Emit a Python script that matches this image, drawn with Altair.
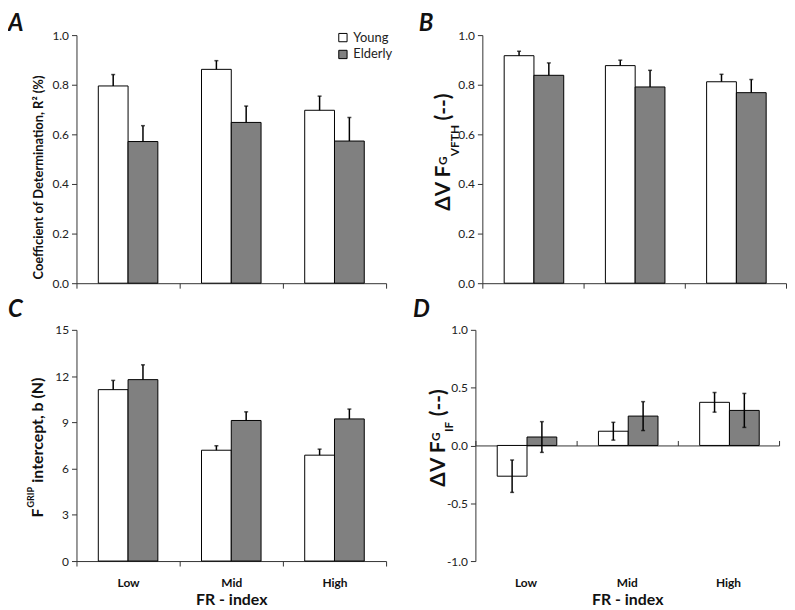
import altair as alt
import pandas as pd

# ---------------- data ----------------
categories = ["Low", "Mid", "High"]
groups = ["Young", "Elderly"]

a_young = [0.795, 0.862, 0.697]
a_young_err = [0.046, 0.035, 0.057]
a_elderly = [0.571, 0.648, 0.573]
a_elderly_err = [0.064, 0.066, 0.095]

b_young = [0.917, 0.877, 0.812]
b_young_err = [0.018, 0.022, 0.030]
b_elderly = [0.838, 0.791, 0.768]
b_elderly_err = [0.050, 0.067, 0.053]

c_young = [11.12, 7.19, 6.87]
c_young_err = [0.60, 0.29, 0.39]
c_elderly = [11.77, 9.12, 9.22]
c_elderly_err = [0.96, 0.56, 0.64]

d_young = [-0.266, 0.123, 0.373]
d_young_err = [0.140, 0.077, 0.085]
d_elderly = [0.073, 0.254, 0.303]
d_elderly_err = [0.133, 0.125, 0.147]

FONT = "Lato"
WL, WR = 312, 306
H1, H2 = 250, 233


def make_df(young, young_err, elderly, elderly_err, both):
    rows = []
    for i, c in enumerate(categories):
        for g, v, e in (("Young", young[i], young_err[i]), ("Elderly", elderly[i], elderly_err[i])):
            rows.append({"cat": c, "grp": g, "val": v,
                         "lo": v - e if both else v, "hi": v + e})
    return pd.DataFrame(rows)


def text_layer(txt, x, y, size, angle=0, italic=False):
    kw = dict(font=FONT, fontSize=size, fontWeight="bold", align="left",
              baseline="alphabetic", color="#111")
    if angle:
        kw["angle"] = angle
    if italic:
        kw["fontStyle"] = "italic"
    return alt.Chart(pd.DataFrame({"t": [txt]})).mark_text(**kw).encode(
        text="t:N", x=alt.value(x), y=alt.value(y))


def rich_title(pieces, start_y):
    layers = []
    y = start_y
    for txt, size, xb, length in pieces:
        layers.append(text_layer(txt, xb, y, size, angle=270))
        y -= length
    return layers


def panel(df, w, h, ydom, yvals, yfmt, ytitle, letter, letter_xy,
          xlabels=False, legend=False, zero_axis=False, title_layers=()):
    xo = alt.XOffset("grp:N", sort=groups,
                     scale=alt.Scale(paddingInner=0, paddingOuter=0.733))
    xscale = alt.Scale(paddingInner=0, paddingOuter=0)
    yscale = alt.Scale(domain=ydom, nice=False)
    yaxis_kw = dict(values=yvals, format=yfmt, tickSize=5, labelPadding=3,
                    labelFontSize=12)
    if ytitle:
        yaxis_kw.update(titleFontSize=13, titleFontWeight="bold", titleX=-34,
                        titleY=143, titleAlign="center", titleBaseline="alphabetic",
                        titleAngle=270, titleColor="#111")
    if ydom[0] < 0:
        yaxis_kw["labelExpr"] = "replace(datum.label, '\u2212', '-')"
    yaxis = alt.Axis(**yaxis_kw)

    if xlabels:
        main_xaxis = dict(labelFontSize=12, labelFontWeight="bold", labelColor="#111",
                          labelAngle=0, labelPadding=12, titleFontSize=16,
                          titleFontWeight="bold", titleColor="#111", titlePadding=3)
    else:
        main_xaxis = dict(labels=False)

    if zero_axis:
        bar_x = alt.X("cat:N", sort=categories, scale=xscale,
                      title="FR - index",
                      axis=alt.Axis(domain=False, ticks=False, **dict(main_xaxis, labelPadding=17)))
        rule_x = alt.X("cat:N", sort=categories, scale=xscale, title=None,
                       axis=alt.Axis(labels=False, tickBand="extent", tickSize=5,
                                     offset=-h / 2))
        cap_x = alt.X("cat:N", sort=categories, scale=xscale, axis=None)
    else:
        bar_x = alt.X("cat:N", sort=categories, scale=xscale,
                      title="FR - index" if xlabels else None,
                      axis=alt.Axis(tickBand="extent", tickSize=5, **main_xaxis))
        rule_x = bar_x
        cap_x = bar_x

    yt = ytitle if ytitle else None
    fill_kw = dict(scale=alt.Scale(domain=groups, range=["#ffffff", "#808080"]))
    if legend:
        fill_kw["legend"] = alt.Legend(orient="none", legendX=262, legendY=-4, title=None,
                                       symbolType="square", symbolSize=70,
                                       symbolStrokeColor="black", symbolStrokeWidth=1,
                                       labelFont=FONT, labelFontSize=13, labelColor="#222",
                                       rowPadding=3, labelOffset=4, padding=0)
    else:
        fill_kw["legend"] = None

    base = alt.Chart(df)
    bars = base.mark_bar(stroke="black", strokeWidth=1).encode(
        x=bar_x, xOffset=xo,
        y=alt.Y("val:Q", scale=yscale, axis=yaxis, title=yt),
        fill=alt.Fill("grp:N", **fill_kw))
    rules = base.mark_rule(color="black", strokeWidth=1.5).encode(
        x=rule_x, xOffset=xo,
        y=alt.Y("lo:Q", scale=yscale, title=yt), y2="hi:Q")
    cap_hi = base.mark_tick(color="black", size=4, thickness=1.5).encode(
        x=cap_x, xOffset=xo, y=alt.Y("hi:Q", scale=yscale, title=yt))
    layers = [bars, rules, cap_hi]
    if zero_axis:
        cap_lo = base.mark_tick(color="black", size=4, thickness=1.5).encode(
            x=cap_x, xOffset=xo, y=alt.Y("lo:Q", scale=yscale, title=yt))
        layers.append(cap_lo)
    layers.append(text_layer(letter, letter_xy[0], letter_xy[1], 24, italic=True))
    layers.extend(title_layers)
    ch = alt.layer(*layers).properties(width=w, height=h)
    if zero_axis:
        ch = ch.resolve_axis(x="independent")
    return ch


df_a = make_df(a_young, a_young_err, a_elderly, a_elderly_err, False)
df_b = make_df(b_young, b_young_err, b_elderly, b_elderly_err, False)
df_c = make_df(c_young, c_young_err, c_elderly, c_elderly_err, False)
df_d = make_df(d_young, d_young_err, d_elderly, d_elderly_err, True)

title_b = rich_title([("ΔV F", 21, -33, 46), ("G", 12, -36, 9),
                      ("VFTH", 12, -24, 36), ("(--)", 21, -33, 30)], 177)
title_c = rich_title([("F", 16, -34, 10), ("GRIP", 9, -43, 25),
                      ("intercept, b (N)", 16, -34, 120)], 189)
title_d = rich_title([("ΔV F", 21, -31, 46), ("G", 12, -36, 9),
                      ("IF", 12, -23, 16), ("(--)", 21, -31, 30)], 158)

pa = panel(df_a, WL, H1, [0, 1], [0, 0.2, 0.4, 0.6, 0.8, 1.0], ".1f",
           "Coefficient of Determination, R\u00b2 (%)", "A", (-69, -4), legend=True)
pb = panel(df_b, WR, H1, [0, 1], [0, 0.2, 0.4, 0.6, 0.8, 1.0], ".1f",
           None, "B", (-64, -4), title_layers=title_b)
pc = panel(df_c, WL, H2, [0, 15], [0, 3, 6, 9, 12, 15], "d",
           None, "C", (-69, -13), xlabels=True, title_layers=title_c)
pd_ = panel(df_d, WR, H2, [-1, 1], [-1.0, -0.5, 0, 0.5, 1.0], ".1f",
            None, "D", (-63, -13), xlabels=True, zero_axis=True, title_layers=title_d)

row1 = alt.hconcat(pa, pb, spacing=26).resolve_scale(fill="independent")
row2 = alt.hconcat(pc, pd_, spacing=26).resolve_scale(fill="independent")
chart = alt.vconcat(row1, row2, spacing=9).resolve_scale(fill="independent").properties(
    padding={"left": 0, "top": 2, "right": 0, "bottom": 0}
).configure_view(stroke=None).configure_axis(
    grid=False, labelFont=FONT, titleFont=FONT, labelColor="#222",
    domainColor="#333", tickColor="#333", labelFontSize=12
)

chart.save("out.html", embed_options={"renderer": "svg", "actions": False})
